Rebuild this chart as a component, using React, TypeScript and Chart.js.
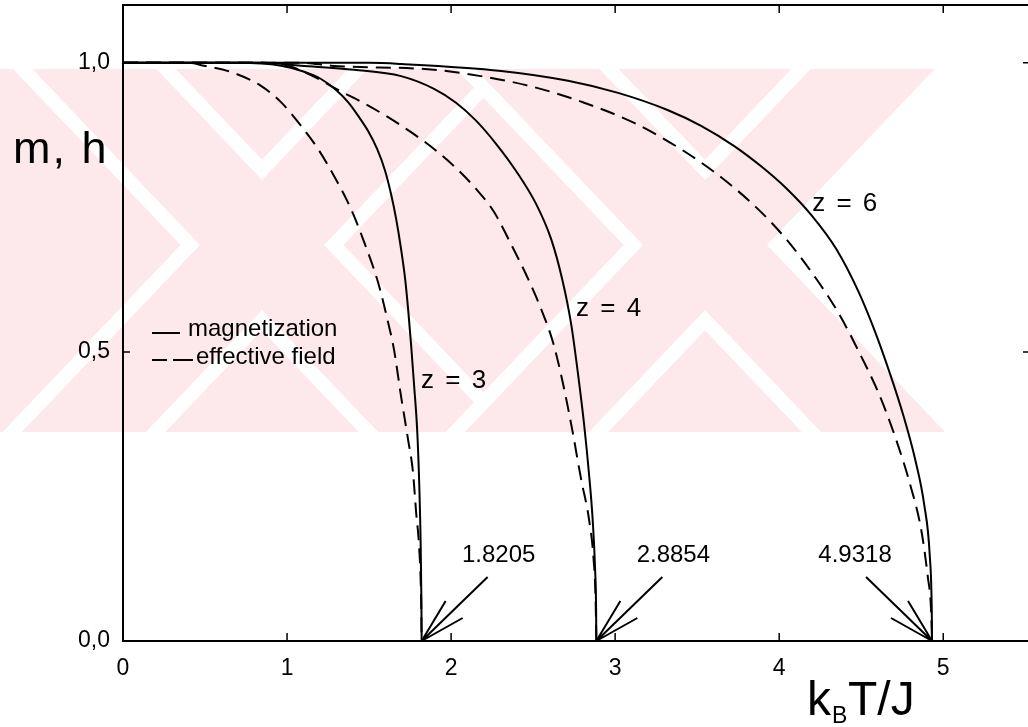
import React, { useEffect, useRef } from "react";
import { Chart, registerables } from "chart.js";

Chart.register(...registerables);

// ---- axis ticks ----
const xTickValues = [0, 1, 2, 3, 4, 5];
const yTickValues = [0, 0.5, 1.0];

// ---- z = 3 ----
const z3MagT = [0, 0.7, 0.963, 1.1, 1.207, 1.29, 1.372, 1.439, 1.494, 1.549, 1.598, 1.634, 1.665, 1.695, 1.72, 1.738, 1.756, 1.774, 1.793, 1.805, 1.814, 1.819, 1.8205];
const z3Mag = [1, 1, 0.995, 0.985, 0.972, 0.955, 0.932, 0.906, 0.882, 0.851, 0.813, 0.773, 0.73, 0.678, 0.626, 0.574, 0.513, 0.444, 0.366, 0.279, 0.175, 0.071, 0];
const z3FieldT = [0, 0.4, 0.494, 0.659, 0.841, 0.963, 1.085, 1.189, 1.287, 1.39, 1.47, 1.555, 1.616, 1.652, 1.695, 1.738, 1.768, 1.787, 1.805, 1.817, 1.8205];
const z3Field = [1, 1, 0.995, 0.984, 0.96, 0.932, 0.891, 0.851, 0.804, 0.747, 0.69, 0.62, 0.551, 0.504, 0.423, 0.348, 0.291, 0.222, 0.163, 0.076, 0];

// ---- z = 4 ----
const z4MagT = [0, 0.85, 1.085, 1.409, 1.695, 1.896, 2.03, 2.152, 2.274, 2.396, 2.518, 2.61, 2.677, 2.732, 2.774, 2.811, 2.841, 2.863, 2.878, 2.884, 2.8854];
const z4Mag = [1, 1, 0.995, 0.988, 0.977, 0.955, 0.931, 0.9, 0.86, 0.813, 0.756, 0.695, 0.626, 0.548, 0.461, 0.374, 0.288, 0.21, 0.123, 0.054, 0];
const z4FieldT = [0, 0.841, 1.006, 1.165, 1.311, 1.463, 1.616, 1.756, 1.896, 2.03, 2.152, 2.262, 2.366, 2.47, 2.549, 2.622, 2.677, 2.738, 2.793, 2.841, 2.869, 2.881, 2.8854];
const z4Field = [1, 1, 0.995, 0.976, 0.953, 0.931, 0.906, 0.88, 0.851, 0.818, 0.782, 0.742, 0.686, 0.626, 0.574, 0.516, 0.452, 0.366, 0.279, 0.21, 0.14, 0.071, 0];

// ---- z = 6 ----
const z6MagT = [0, 1.5, 1.695, 2.305, 2.713, 3.018, 3.323, 3.524, 3.726, 3.89, 4.043, 4.195, 4.348, 4.482, 4.591, 4.677, 4.756, 4.829, 4.884, 4.918, 4.93, 4.9318];
const z6Mag = [1, 1, 0.998, 0.986, 0.969, 0.948, 0.918, 0.891, 0.856, 0.821, 0.783, 0.737, 0.678, 0.605, 0.53, 0.461, 0.391, 0.314, 0.236, 0.147, 0.054, 0];
const z6FieldT = [0, 1.1, 1.268, 1.896, 2.201, 2.506, 2.811, 3.116, 3.421, 3.646, 3.86, 4.043, 4.207, 4.36, 4.488, 4.61, 4.713, 4.799, 4.866, 4.905, 4.926, 4.9318];
const z6Field = [1, 1, 0.995, 0.988, 0.976, 0.958, 0.931, 0.896, 0.847, 0.802, 0.75, 0.695, 0.634, 0.568, 0.499, 0.426, 0.348, 0.27, 0.192, 0.113, 0.053, 0];

// ---- annotations ----
const criticalT = [1.8205, 2.8854, 4.9318];
const criticalLabels = ["1.8205", "2.8854", "4.9318"];
const arrowSide = [1, 1, -1];
const zLabels = ["z = 3", "z = 4", "z = 6"];
const zLabelT = [1.817, 2.762, 4.201];
const zLabelY = [0.438, 0.5615, 0.7435];
const legendLabels = ["magnetization", "effective field"];

// ---- background watermark: two outlined "X" letters (centre x) ----
const wmCentres = [262, 705];

const FONT = "'Liberation Sans', Arial, sans-serif";

const pts = (xs: number[], ys: number[]) => xs.map((x, i) => ({ x, y: ys[i] }));

const watermarkPlugin = {
  id: "watermark",
  beforeDraw(chart: any) {
    const ctx = chart.ctx;
    const T = 69, B = 432, cy = 245, k = 1.05, a = 62;
    const pink = "#fde9ec";
    const xPoly = (cx: number) => {
      const dt = (cy - T) / k;
      const db = (B - cy) / k;
      return [
        [cx - dt - a, T], [cx - dt + a, T], [cx, cy - a * k], [cx + dt - a, T], [cx + dt + a, T],
        [cx + a, cy],
        [cx + db + a, B], [cx + db - a, B], [cx, cy + a * k], [cx - db + a, B], [cx - db - a, B],
        [cx - a, cy],
      ];
    };
    ctx.save();
    ctx.beginPath();
    ctx.rect(0, T, chart.width, B - T);
    ctx.clip();
    const last = xPoly(wmCentres[wmCentres.length - 1]);
    ctx.fillStyle = pink;
    ctx.beginPath();
    ctx.moveTo(0, T);
    ctx.lineTo(last[4][0], T);
    ctx.lineTo(last[5][0], last[5][1]);
    ctx.lineTo(last[6][0], B);
    ctx.lineTo(0, B);
    ctx.closePath();
    ctx.fill();
    wmCentres.forEach((cx) => {
      const p = xPoly(cx);
      ctx.beginPath();
      p.forEach(([x, y], i) => (i === 0 ? ctx.moveTo(x, y) : ctx.lineTo(x, y)));
      ctx.closePath();
      ctx.strokeStyle = "#ffffff";
      ctx.lineWidth = 28;
      ctx.lineJoin = "miter";
      ctx.stroke();
      ctx.fillStyle = pink;
      ctx.fill();
    });
    ctx.restore();
  },
};

const decorPlugin = {
  id: "decor",
  afterDatasetsDraw(chart: any) {
    const ctx = chart.ctx;
    const { left, right, top, bottom } = chart.chartArea;
    const xs = chart.scales.x;
    const ys = chart.scales.y;
    ctx.save();
    ctx.strokeStyle = "#000";
    ctx.fillStyle = "#000";
    ctx.lineCap = "butt";

    // frame
    ctx.lineWidth = 2;
    ctx.strokeRect(left, top, right - left, bottom - top);

    // inward ticks
    ctx.lineWidth = 1.5;
    xTickValues.forEach((v) => {
      if (v === 0) return;
      const px = xs.getPixelForValue(v);
      ctx.beginPath();
      ctx.moveTo(px, bottom);
      ctx.lineTo(px, bottom - 8);
      ctx.moveTo(px, top);
      ctx.lineTo(px, top + 8);
      ctx.stroke();
    });
    yTickValues.forEach((v) => {
      if (v === 0) return;
      const py = ys.getPixelForValue(v);
      ctx.beginPath();
      ctx.moveTo(left, py);
      ctx.lineTo(left + 7, py);
      ctx.moveTo(right, py);
      ctx.lineTo(right - 8, py);
      ctx.stroke();
    });

    // arrows to critical temperatures
    ctx.lineWidth = 2;
    criticalT.forEach((t, i) => {
      const px = xs.getPixelForValue(t);
      const py = ys.getPixelForValue(0);
      const d = arrowSide[i];
      ctx.beginPath();
      ctx.moveTo(px, py);
      ctx.lineTo(px + d * 66, py - 64);
      ctx.moveTo(px, py);
      ctx.lineTo(px + d * 24, py - 40);
      ctx.moveTo(px, py);
      ctx.lineTo(px + d * 41, py - 23);
      ctx.stroke();
      ctx.font = `24px ${FONT}`;
      ctx.textAlign = "center";
      ctx.textBaseline = "middle";
      ctx.fillText(criticalLabels[i], px + d * 77, py - 86);
    });

    // z labels
    ctx.font = `26px ${FONT}`;
    ctx.textAlign = "left";
    ctx.textBaseline = "alphabetic";
    try { (ctx as any).letterSpacing = "2px"; } catch (e) {}
    zLabels.forEach((s, i) => {
      ctx.fillText(s, xs.getPixelForValue(zLabelT[i]), ys.getPixelForValue(zLabelY[i]));
    });

    // legend
    try { (ctx as any).letterSpacing = "0px"; } catch (e) {}
    const lx = left + 29;
    ctx.lineWidth = 2;
    ctx.beginPath();
    ctx.moveTo(lx, 333);
    ctx.lineTo(lx + 28, 333);
    ctx.stroke();
    ctx.beginPath();
    ctx.moveTo(lx, 360);
    ctx.lineTo(lx + 15, 360);
    ctx.moveTo(lx + 21, 360);
    ctx.lineTo(lx + 41, 360);
    ctx.stroke();
    ctx.font = `24px ${FONT}`;
    ctx.fillText(legendLabels[0], lx + 36, 336);
    ctx.fillText(legendLabels[1], lx + 44, 364);

    // axis titles
    try { (ctx as any).letterSpacing = "2px"; } catch (e) {}
    ctx.font = `45px ${FONT}`;
    ctx.fillText("m, h", 13, 163);
    try { (ctx as any).letterSpacing = "0px"; } catch (e) {}
    ctx.font = `48px ${FONT}`;
    ctx.fillText("k", 807, 715);
    ctx.font = `23px ${FONT}`;
    ctx.fillText("B", 832, 723);
    ctx.font = `48px ${FONT}`;
    ctx.fillText("T/J", 848, 715);
    ctx.restore();
  },
};

export default function App() {
  const ref = useRef<HTMLCanvasElement>(null);
  useEffect(() => {
    document.body.style.margin = "0";
    const solid = (data: any) => ({
      data,
      showLine: true,
      borderColor: "#000",
      borderWidth: 2,
      pointRadius: 0,
      fill: false,
      cubicInterpolationMode: "monotone" as const,
    });
    const dashed = (data: any) => ({ ...solid(data), borderDash: [15, 8] });
    const chart = new Chart(ref.current!, {
      type: "scatter",
      data: {
        datasets: [
          solid(pts(z3MagT, z3Mag)),
          dashed(pts(z3FieldT, z3Field)),
          solid(pts(z4MagT, z4Mag)),
          dashed(pts(z4FieldT, z4Field)),
          solid(pts(z6MagT, z6Mag)),
          dashed(pts(z6FieldT, z6Field)),
        ],
      },
      options: {
        animation: false,
        responsive: false,
        layout: { padding: { top: 5, right: 9, left: 0, bottom: 0 } },
        plugins: { legend: { display: false }, tooltip: { enabled: false } },
        scales: {
          x: {
            type: "linear",
            min: 0,
            max: 5.535,
            afterBuildTicks: (s: any) => {
              s.ticks = xTickValues.map((v) => ({ value: v }));
            },
            afterFit: (s: any) => {
              s.height = 86;
              s.paddingLeft = 0;
              s.paddingRight = 0;
            },
            grid: { display: false, drawTicks: false },
            border: { display: false },
            ticks: {
              padding: 14,
              color: "#000",
              font: { family: FONT, size: 23 },
              maxRotation: 0,
              callback: (v: any) => String(v),
            },
          },
          y: {
            type: "linear",
            min: 0,
            max: 1.1,
            afterBuildTicks: (s: any) => {
              s.ticks = yTickValues.map((v) => ({ value: v }));
            },
            afterFit: (s: any) => {
              s.width = 123;
              s.paddingTop = 0;
              s.paddingBottom = 0;
            },
            grid: { display: false, drawTicks: false },
            border: { display: false },
            ticks: {
              padding: 13,
              color: "#000",
              font: { family: FONT, size: 23 },
              callback: (v: any) => Number(v).toFixed(1).replace(".", ","),
            },
          },
        },
      } as any,
      plugins: [watermarkPlugin, decorPlugin],
    });
    return () => chart.destroy();
  }, []);
  return (
    <div style={{ width: 1028, height: 727, overflow: "hidden", background: "#fff" }}>
      <canvas ref={ref} width={1040} height={727} style={{ display: "block" }} />
    </div>
  );
}
